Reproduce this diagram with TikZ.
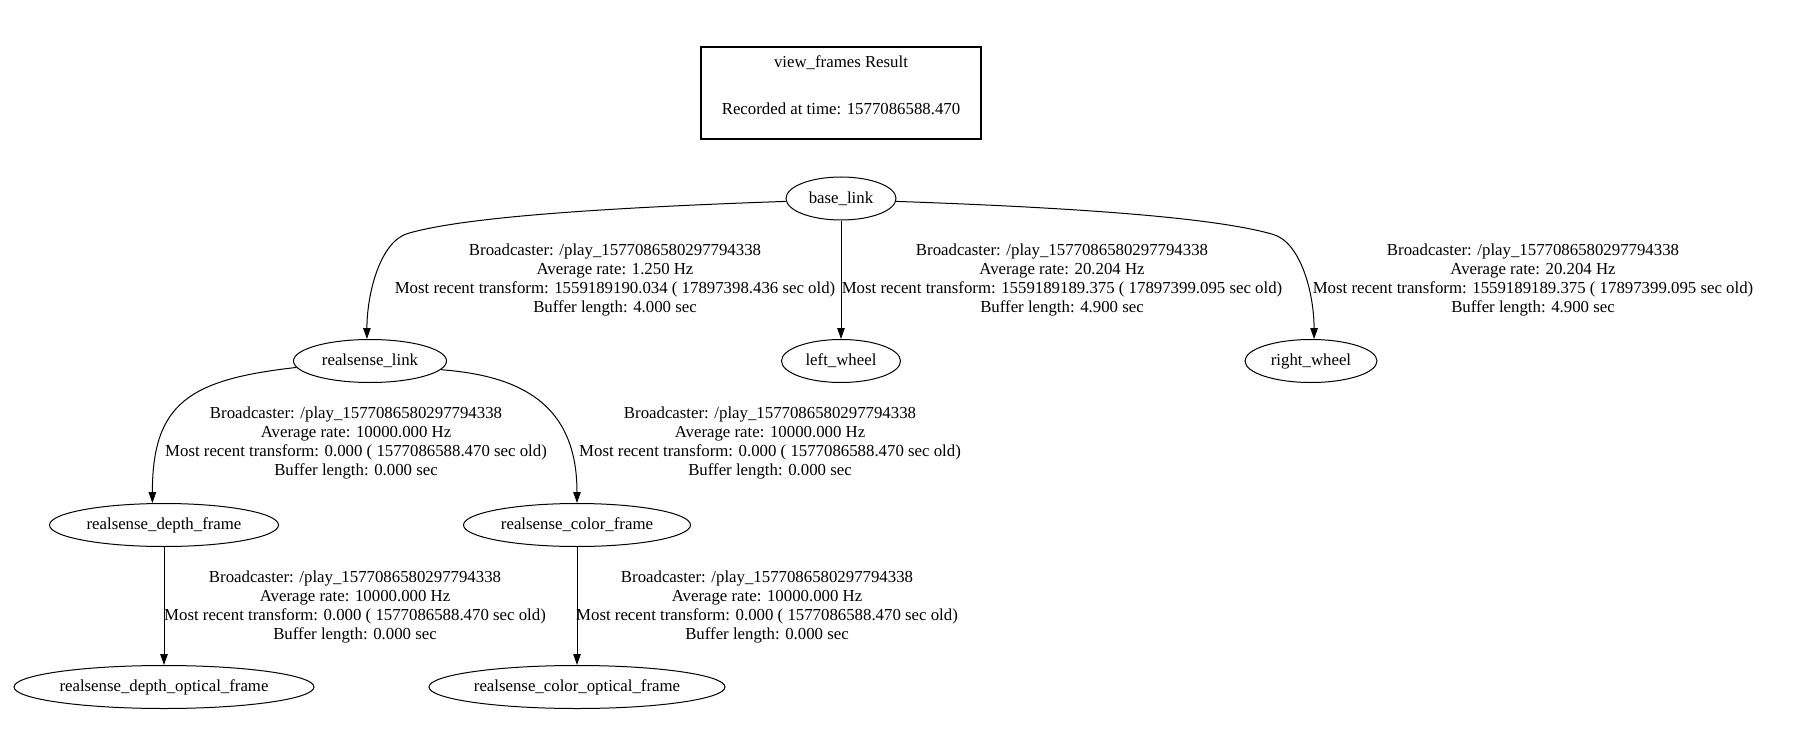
\documentclass[tikz,border=0pt]{standalone}
\usepackage{fontspec}
\setmainfont{Liberation Serif}
\usetikzlibrary{arrows.meta,shapes.geometric}

\newcommand{\tfinfo}[4]{Broadcaster: /play\_1577086580297794338\\Average rate: #1 Hz\\Most recent transform: #2 ( #3 sec old)\\Buffer length: #4 sec}

\begin{document}
\begin{tikzpicture}[x=1pt, y=-1pt,
    every node/.append style={font=\fontsize{16.8}{19}\selectfont},
    tfnode/.style={draw, ellipse, line width=1pt, minimum height=43pt, minimum width=#1, inner sep=0pt},
    tfinfo/.style={align=center, inner sep=0pt},
    tfedge/.style={line width=1pt, -{Triangle[length=11pt,width=7.5pt]}}]
  \path[use as bounding box, fill=white] (0,0) rectangle (1793,738);

  % header box
  \node[draw, line width=2pt, minimum width=280pt, minimum height=92pt, align=center, text depth=15pt]
    (title) at (841,93) {view\_frames Result\\[28pt]Recorded at time: 1577086588.470};

  % frames
  \node[tfnode=110pt] (base) at (841,198.5) {base\_link};
  \node[tfnode=153pt] (rlink) at (370,361) {realsense\_link};
  \node[tfnode=119pt] (lwheel) at (841,361) {left\_wheel};
  \node[tfnode=132pt] (rwheel) at (1311,361) {right\_wheel};
  \node[tfnode=229pt] (dframe) at (164,525) {realsense\_depth\_frame};
  \node[tfnode=227pt] (cframe) at (577,525) {realsense\_color\_frame};
  \node[tfnode=300pt] (doptical) at (164,687) {realsense\_depth\_optical\_frame};
  \node[tfnode=296pt] (coptical) at (577,687) {realsense\_color\_optical\_frame};

  % transforms
  \draw[tfedge] (base.183) .. controls +(-230,8) and +(45,-13) .. ++(-378,32)
    .. controls +(-28,8) and +(0,-45) .. (rlink.98);
  \draw[tfedge] (base.south) -- (lwheel.north);
  \draw[tfedge] (base.-3) .. controls +(230,8) and +(-45,-13) .. ++(377,33)
    .. controls +(28,8) and +(0,-45) .. (rwheel.82);
  \draw[tfedge] (rlink.185) .. controls +(-107,12) and +(0,-100) .. (dframe.118);
  \draw[tfedge] (rlink.-7) .. controls +(80,6) and +(0,-99) .. (cframe.north);
  \draw[tfedge] (dframe.south) -- (doptical.north);
  \draw[tfedge] (cframe.south) -- (coptical.north);

  % broadcaster info
  \foreach \n/\x/\y/\rate/\stamp/\age/\buf in {
      1/615/280/1.250/1559189190.034/17897398.436/4.000,
      2/1062/280/20.204/1559189189.375/17897399.095/4.900,
      3/1533/280/20.204/1559189189.375/17897399.095/4.900,
      4/356/443/10000.000/0.000/1577086588.470/0.000,
      5/770/443/10000.000/0.000/1577086588.470/0.000,
      6/355/607/10000.000/0.000/1577086588.470/0.000,
      7/767/607/10000.000/0.000/1577086588.470/0.000} {
    \node[tfinfo] (info\n) at (\x,\y) {\tfinfo{\rate}{\stamp}{\age}{\buf}};
  }
\end{tikzpicture}
\end{document}
